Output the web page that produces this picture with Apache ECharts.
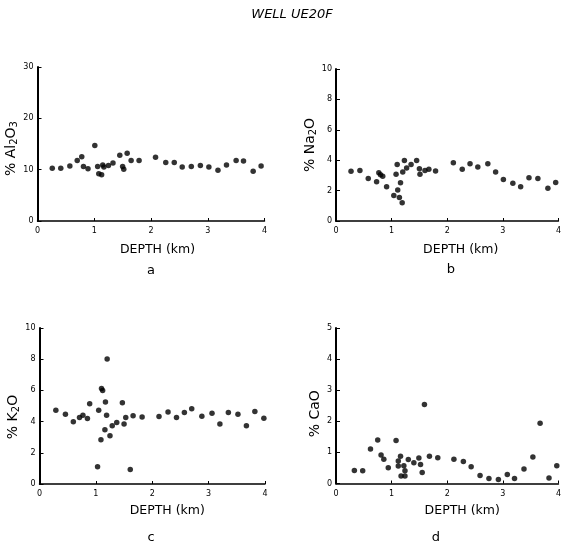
<!DOCTYPE html>
<html>
<head>
<meta charset="utf-8">
<script src="https://cdn.jsdelivr.net/npm/echarts@6/dist/echarts.min.js"></script>
<style>
html,body{margin:0;padding:0;background:#fff;}
#chart{width:564px;height:546px;}
</style>
</head>
<body>
<div id="chart"></div>
<script>
// Panel a: % Al2O3 vs depth (km)
const depthA = [0.26,0.41,0.57,0.70,0.78,0.81,0.89,1.01,1.06,1.08,1.13,1.15,1.17,1.25,1.33,1.45,1.50,1.52,1.58,1.65,1.79,2.08,2.26,2.41,2.55,2.71,2.87,3.02,3.18,3.33,3.50,3.63,3.80,3.94];
const al2o3  = [10.3,10.3,10.7,11.8,12.5,10.6,10.2,14.7,10.6,9.2,9.0,10.9,10.5,10.8,11.3,12.8,10.6,10.1,13.2,11.8,11.8,12.4,11.4,11.4,10.5,10.6,10.8,10.5,9.9,10.9,11.8,11.7,9.7,10.7];
// Panel b: % Na2O
const depthB = [0.27,0.43,0.58,0.73,0.77,0.80,0.84,0.91,1.04,1.08,1.10,1.11,1.14,1.16,1.19,1.20,1.23,1.27,1.35,1.45,1.50,1.51,1.60,1.67,1.79,2.11,2.27,2.41,2.55,2.73,2.87,3.01,3.18,3.32,3.47,3.63,3.81,3.95];
const na2o   = [3.28,3.33,2.8,2.58,3.18,3.05,2.95,2.26,1.68,3.08,3.72,2.04,1.55,2.52,1.2,3.23,3.98,3.48,3.72,3.98,3.44,3.08,3.33,3.4,3.29,3.83,3.4,3.76,3.55,3.76,3.23,2.73,2.49,2.26,2.84,2.8,2.15,2.54];
// Panel c: % K2O
const depthC = [0.29,0.46,0.60,0.71,0.77,0.85,0.89,1.03,1.05,1.09,1.10,1.12,1.16,1.17,1.19,1.20,1.25,1.29,1.37,1.47,1.50,1.53,1.61,1.66,1.82,2.12,2.28,2.43,2.57,2.70,2.88,3.06,3.20,3.35,3.52,3.67,3.82,3.98];
const k2o    = [4.73,4.47,3.99,4.26,4.41,4.20,5.15,1.10,4.73,2.83,6.12,5.99,3.48,5.25,4.41,8.02,3.10,3.73,3.95,5.21,3.84,4.26,0.93,4.37,4.30,4.32,4.62,4.26,4.58,4.83,4.35,4.54,3.84,4.58,4.47,3.73,4.64,4.22];
// Panel d: % CaO
const depthD = [0.33,0.48,0.62,0.75,0.81,0.86,0.94,1.08,1.12,1.12,1.16,1.17,1.22,1.24,1.24,1.30,1.40,1.49,1.52,1.55,1.59,1.68,1.83,2.12,2.29,2.43,2.59,2.75,2.92,3.08,3.21,3.38,3.54,3.67,3.83,3.97];
const cao    = [0.42,0.41,1.11,1.40,0.92,0.78,0.51,1.38,0.72,0.56,0.88,0.24,0.57,0.24,0.41,0.77,0.67,0.82,0.61,0.35,2.54,0.88,0.83,0.78,0.71,0.54,0.26,0.16,0.13,0.29,0.16,0.47,0.85,1.94,0.18,0.57];

const xTicks = [0,1,2,3,4];

const pair = (xs, ys) => xs.map((x, i) => [x, ys[i]]);
const font = 'DejaVu Sans, sans-serif';

const grids = [
  {left: 37.5, top: 67, width: 227, height: 154},
  {left: 336, top: 69, width: 226.5, height: 152},
  {left: 39.5, top: 328, width: 225.5, height: 156},
  {left: 336, top: 328, width: 226.5, height: 155.5}
];
const yMax = [30, 10, 10, 5];
const yInt = [10, 2, 2, 1];
const yNames = ['% Al{s|2}O{s|3}', '% Na{s|2}O', '% K{s|2}O', '% CaO'];
const yNamePad = [[0,9,0,0],[0,0,0,0],[0,22,0,0],[0,16,0,0]];
const xNameGap = [22, 22, 20.5, 21];
const xNamePad = [[0,0,0,13],[0,0,0,27],[0,0,0,30],[0,0,0,30]];

const xAxes = grids.map((g, i) => ({
  gridIndex: i, type: 'value', min: 0, max: 4, interval: 1,
  axisLine: {show: true, onZero: false, lineStyle: {color: '#000', width: 1.5}},
  axisTick: {show: true, inside: true, length: 3, lineStyle: {color: '#000', width: 1}},
  axisLabel: {color: '#000', fontSize: 8, fontFamily: font, margin: 6,
    formatter: v => xTicks.includes(v) ? String(v) : ''},
  splitLine: {show: false},
  name: 'DEPTH (km)', nameLocation: 'middle', nameGap: xNameGap[i],
  nameTextStyle: {color: '#000', fontSize: 12.5, fontFamily: font, padding: xNamePad[i]}
}));

const yAxes = grids.map((g, i) => ({
  gridIndex: i, type: 'value', min: 0, max: yMax[i], interval: yInt[i],
  axisLine: {show: true, lineStyle: {color: '#000', width: 2}},
  axisTick: {show: true, inside: true, length: 4, lineStyle: {color: '#000', width: 1}},
  axisLabel: {color: '#000', fontSize: 8, fontFamily: font, margin: 4},
  splitLine: {show: false},
  name: yNames[i], nameLocation: 'middle', nameRotate: 90, nameGap: 14,
  nameTextStyle: {color: '#000', fontSize: 14, fontFamily: font, padding: yNamePad[i],
    rich: {s: {fontSize: 10, fontFamily: font, color: '#000', padding: [6,0,0,0], verticalAlign: 'bottom'}}}
}));

const datasets = [pair(depthA, al2o3), pair(depthB, na2o), pair(depthC, k2o), pair(depthD, cao)];
const series = datasets.map((d, i) => ({
  type: 'scatter', xAxisIndex: i, yAxisIndex: i, data: d,
  symbol: 'circle', symbolSize: 5.5, itemStyle: {color: '#000'}, silent: true
}));

const letters = [['a', 151, 271], ['b', 451, 270], ['c', 151, 538], ['d', 436, 538]];
const graphic = [
  {type: 'text', x: 292, y: 15, style: {text: 'WELL UE20F', fill: '#000', font: 'italic 13px DejaVu Sans', textAlign: 'center', textVerticalAlign: 'middle'}}
].concat(letters.map(l => ({type: 'text', x: l[1], y: l[2], style: {text: l[0], fill: '#000', font: '13px DejaVu Sans', textAlign: 'center', textVerticalAlign: 'middle'}})));

const chart = echarts.init(document.getElementById('chart'), null, {renderer: 'canvas'});
chart.setOption({
  animation: false,
  backgroundColor: '#fff',
  grid: grids,
  xAxis: xAxes,
  yAxis: yAxes,
  series: series,
  graphic: graphic
});
</script>
</body>
</html>
